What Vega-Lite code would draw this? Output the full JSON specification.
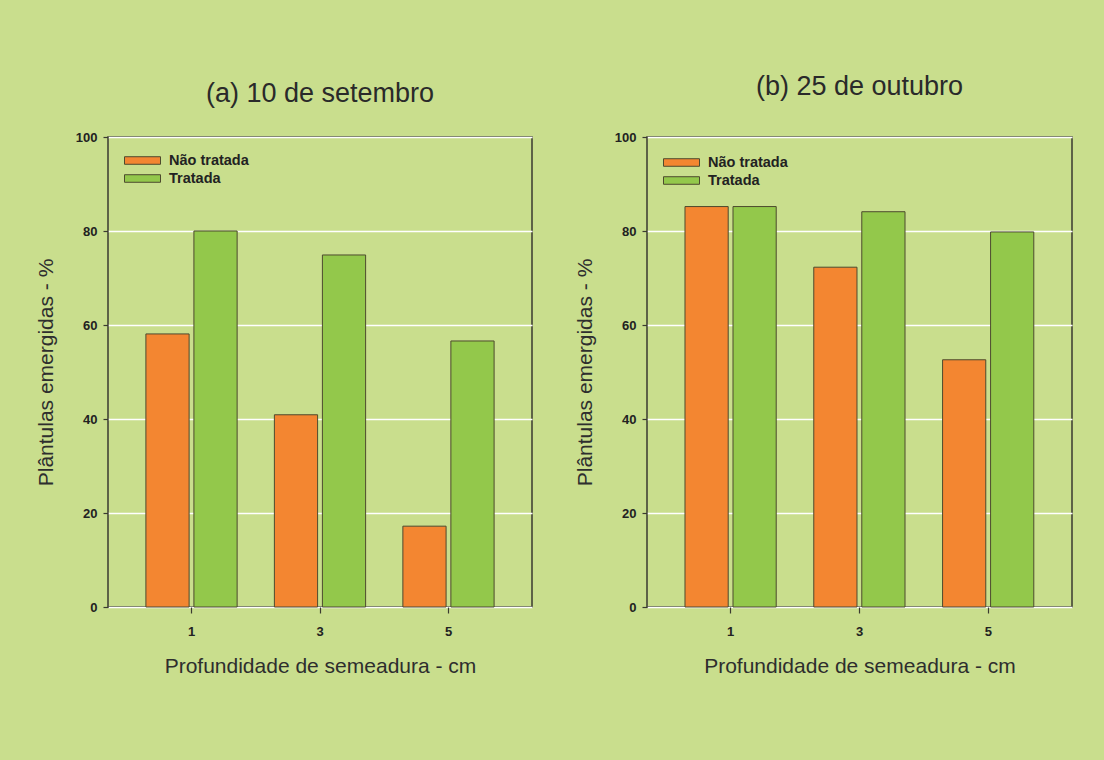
{
  "$schema": "https://vega.github.io/schema/vega-lite/v6.json",
  "background": "#c9de8d",
  "padding": {"left": 34, "top": 72, "right": 48, "bottom": 83},
  "spacing": 40,
  "config": {
    "font": "Liberation Sans",
    "view": {"stroke": "#3a3a30", "strokeWidth": 1.5, "fill": "#c9de8d"},
    "axis": {
      "domain": false,
      "tickColor": "#3a3a30",
      "tickSize": 5,
      "tickWidth": 1.2,
      "labelFont": "Liberation Sans",
      "labelFontWeight": "bold",
      "labelFontSize": 13,
      "labelColor": "#222222",
      "titleFont": "Liberation Sans",
      "titleFontSize": 21,
      "titleFontWeight": "normal",
      "titleColor": "#2e2e2e",
      "gridColor": "#ffffff",
      "gridWidth": 1.5,
      "gridOpacity": 1
    },
    "axisX": {"labelPadding": 12, "titlePadding": 17, "tickSize": 6, "grid": false, "labelAngle": 0},
    "axisY": {"labelPadding": 6, "titlePadding": 19},
    "title": {"font": "Liberation Sans", "fontSize": 27, "fontWeight": "normal", "color": "#2a2a2a"},
    "legend": {
      "orient": "none",
      "title": null,
      "labelFont": "Liberation Sans",
      "labelFontSize": 14.5,
      "labelFontWeight": "bold",
      "labelColor": "#222222",
      "symbolType": "M-2,-0.42L2,-0.42L2,0.42L-2,0.42Z",
      "symbolSize": 324,
      "symbolStrokeColor": "#4d4a2e",
      "symbolStrokeWidth": 1,
      "symbolOpacity": 1,
      "labelOffset": 17,
      "rowPadding": 2
    }
  },
  "datasets": {
    "a": [
      {"depth": "1", "trat": "Não tratada", "value": 58.1},
      {"depth": "1", "trat": "Tratada", "value": 80.0},
      {"depth": "3", "trat": "Não tratada", "value": 40.9},
      {"depth": "3", "trat": "Tratada", "value": 74.9},
      {"depth": "5", "trat": "Não tratada", "value": 17.2},
      {"depth": "5", "trat": "Tratada", "value": 56.6}
    ],
    "b": [
      {"depth": "1", "trat": "Não tratada", "value": 85.2},
      {"depth": "1", "trat": "Tratada", "value": 85.2},
      {"depth": "3", "trat": "Não tratada", "value": 72.3},
      {"depth": "3", "trat": "Tratada", "value": 84.1},
      {"depth": "5", "trat": "Não tratada", "value": 52.6},
      {"depth": "5", "trat": "Tratada", "value": 79.8}
    ]
  },
  "hconcat": [
    {
      "width": 424,
      "height": 470,
      "title": {"text": "(a) 10 de setembro", "offset": 23},
      "data": {"name": "a"},
      "mark": {"type": "bar", "stroke": "#4d4a2e", "strokeWidth": 1},
      "encoding": {
        "x": {"field": "depth", "type": "ordinal", "scale": {"paddingInner": 0.29, "paddingOuter": 0.295}, "axis": {"title": "Profundidade de semeadura - cm"}},
        "xOffset": {"field": "trat", "type": "nominal", "sort": ["Não tratada", "Tratada"], "scale": {"paddingInner": 0.1}},
        "y": {"field": "value", "type": "quantitative", "scale": {"domain": [0, 100]}, "axis": {"title": "Plântulas emergidas - %", "values": [0, 20, 40, 60, 80, 100]}},
        "color": {"field": "trat", "type": "nominal", "sort": ["Não tratada", "Tratada"], "scale": {"range": ["#f38631", "#93c84b"]}, "legend": {"legendX": 25, "legendY": 14}}
      }
    },
    {
      "width": 425,
      "height": 470,
      "title": {"text": "(b) 25 de outubro", "offset": 30},
      "data": {"name": "b"},
      "mark": {"type": "bar", "stroke": "#4d4a2e", "strokeWidth": 1},
      "encoding": {
        "x": {"field": "depth", "type": "ordinal", "scale": {"paddingInner": 0.29, "paddingOuter": 0.295}, "axis": {"title": "Profundidade de semeadura - cm"}},
        "xOffset": {"field": "trat", "type": "nominal", "sort": ["Não tratada", "Tratada"], "scale": {"paddingInner": 0.1}},
        "y": {"field": "value", "type": "quantitative", "scale": {"domain": [0, 100]}, "axis": {"title": "Plântulas emergidas - %", "values": [0, 20, 40, 60, 80, 100]}},
        "color": {"field": "trat", "type": "nominal", "sort": ["Não tratada", "Tratada"], "scale": {"range": ["#f38631", "#93c84b"]}, "legend": {"legendX": 25, "legendY": 16}}
      }
    }
  ],
  "resolve": {"scale": {"color": "independent"}, "legend": {"color": "independent"}}
}
